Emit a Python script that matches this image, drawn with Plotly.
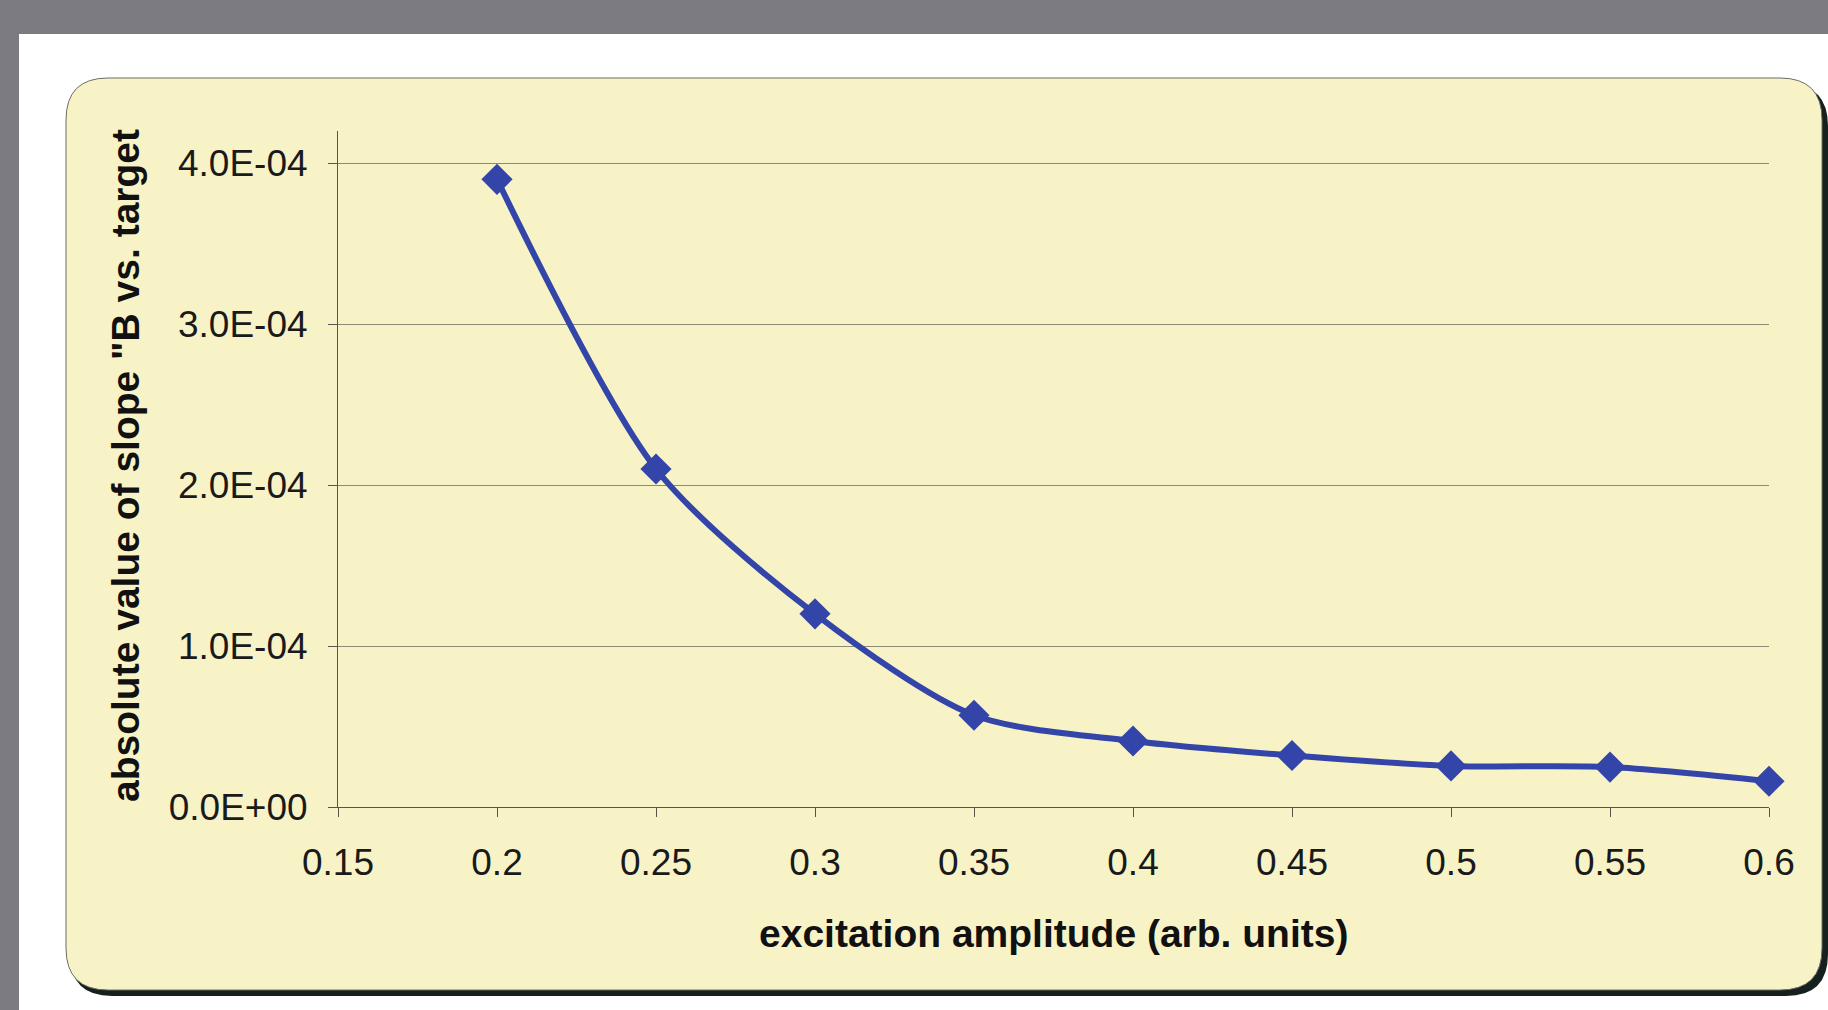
import plotly.graph_objects as go

# ---- data ----
amplitude = [0.2, 0.25, 0.3, 0.35, 0.4, 0.45, 0.5, 0.55, 0.6]
slope_abs = [3.9e-4, 2.1e-4, 1.2e-4, 0.57e-4, 0.41e-4, 0.32e-4, 0.255e-4, 0.248e-4, 0.16e-4]
x_ticks = [0.15, 0.2, 0.25, 0.3, 0.35, 0.4, 0.45, 0.5, 0.55, 0.6]
x_ticklabels = ["0.15", "0.2", "0.25", "0.3", "0.35", "0.4", "0.45", "0.5", "0.55", "0.6"]
y_ticks = [0, 1e-4, 2e-4, 3e-4, 4e-4]
y_ticklabels = ["0.0E+00", "1.0E-04", "2.0E-04", "3.0E-04", "4.0E-04"]
x_title = "excitation amplitude (arb. units)"
y_title = 'absolute value of slope "B vs. target'

W, H = 1828, 1010
PL, PR, PT, PB = 338, 1769, 131, 807  # plot area in pixels


def px(x):
    return x / W


def py(y):
    return 1 - y / H


def rounded_rect(x0, y0, x1, y1, r):
    rx, ry = r / W, r / H
    X0, X1 = px(x0), px(x1)
    Y0, Y1 = py(y1), py(y0)  # bottom, top in paper
    return (f"M {X0+rx},{Y1} L {X1-rx},{Y1} Q {X1},{Y1} {X1},{Y1-ry} "
            f"L {X1},{Y0+ry} Q {X1},{Y0} {X1-rx},{Y0} L {X0+rx},{Y0} "
            f"Q {X0},{Y0} {X0},{Y0+ry} L {X0},{Y1-ry} Q {X0},{Y1} {X0+rx},{Y1} Z")


FONT = "Liberation Sans, Arial, sans-serif"
LINE_BLUE = "#3445a9"

fig = go.Figure()
fig.add_trace(go.Scatter(
    x=amplitude, y=slope_abs, mode="lines+markers",
    line=dict(color=LINE_BLUE, width=6, shape="spline", smoothing=0.8),
    marker=dict(symbol="diamond", size=24, color=LINE_BLUE),
    cliponaxis=False, showlegend=False,
))

shapes = [
    # top gray band
    dict(type="rect", xref="paper", yref="paper", x0=0, x1=1, y0=py(34), y1=1,
         fillcolor="#7c7b81", line=dict(width=0), layer="below"),
    # left gray band
    dict(type="rect", xref="paper", yref="paper", x0=0, x1=px(19), y0=0, y1=1,
         fillcolor="#7c7b81", line=dict(width=0), layer="below"),
    # panel shadow
    dict(type="path", xref="paper", yref="paper", path=rounded_rect(70, 84, 1828, 996, 42),
         fillcolor="#15201f", line=dict(width=0), layer="below"),
    # panel
    dict(type="path", xref="paper", yref="paper", path=rounded_rect(66, 78, 1822, 990, 42),
         fillcolor="#f8f3c7", line=dict(color="#6d6c62", width=1), layer="below"),
]

annotations = [
    dict(text=f"<b>{x_title}</b>", xref="paper", yref="paper", x=px((PL + PR) / 2), y=py(933),
         showarrow=False, xanchor="center", yanchor="middle",
         font=dict(family=FONT, size=39, color="#111111")),
    dict(text=f"<b>{y_title}</b>", xref="paper", yref="paper", x=px(126), y=py(466),
         showarrow=False, xanchor="center", yanchor="middle", textangle=-90,
         font=dict(family=FONT, size=39, color="#111111")),
]

fig.update_layout(
    width=W, height=H,
    margin=dict(l=0, r=0, t=0, b=0),
    paper_bgcolor="white", plot_bgcolor="rgba(0,0,0,0)",
    shapes=shapes, annotations=annotations,
    xaxis=dict(
        domain=[px(PL), px(PR)], range=[0.15, 0.6],
        tickvals=x_ticks, ticktext=x_ticklabels,
        showgrid=False, zeroline=False,
        showline=True, linecolor="#55554d", linewidth=1,
        ticks="outside", ticklen=9, tickcolor="#55554d", tickwidth=1,
        tickfont=dict(family=FONT, size=37, color="#1a1a1a"),
        ticklabelstandoff=14, automargin=False,
    ),
    yaxis=dict(
        domain=[py(PB), py(PT)], range=[0, 4.2e-4],
        tickvals=y_ticks, ticktext=y_ticklabels,
        showgrid=True, gridcolor="#8b8a76", gridwidth=1,
        zeroline=False,
        showline=True, linecolor="#55554d", linewidth=1,
        ticks="outside", ticklen=9, tickcolor="#55554d", tickwidth=1,
        tickfont=dict(family=FONT, size=37, color="#1a1a1a"),
        ticklabelstandoff=13, automargin=False,
    ),
)

fig.write_html("out.html")
